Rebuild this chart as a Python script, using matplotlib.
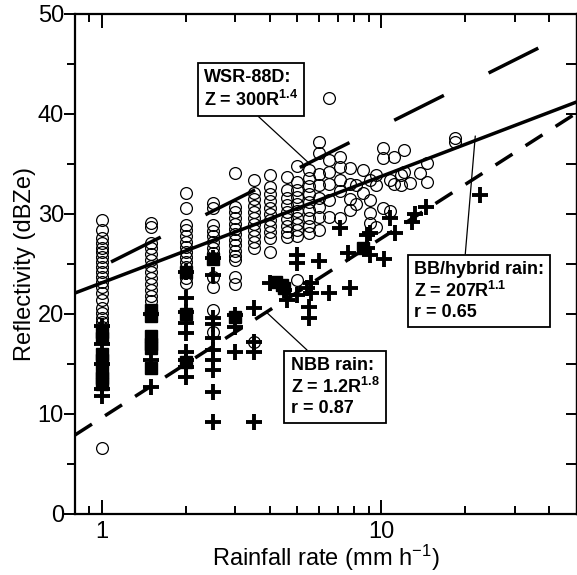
import numpy as np
import matplotlib.pyplot as plt
from matplotlib import ticker

plt.rcParams['font.family'] = ['Liberation Sans', 'DejaVu Sans']
plt.rcParams['mathtext.fontset'] = 'custom'
plt.rcParams['mathtext.rm'] = 'Liberation Sans'
plt.rcParams['mathtext.bf'] = 'Liberation Sans:bold'
plt.rcParams['mathtext.default'] = 'regular'
plt.rcParams['lines.scale_dashes'] = False

# open circles: rain rate columns and their reflectivities (dBZe)
circ_rates = [1.0, 1.5, 2.0, 2.5, 3.0, 3.5, 4.0, 4.6, 5.0, 5.5, 6.0, 6.5,
              7.1, 7.7, 8.1, 8.6, 9.1, 9.6, 10.1, 10.7, 11.1, 11.8, 12.1,
              12.7, 13.8, 14.6, 18.3]
circ_cols = [
    [29.4, 28.4, 27.6, 27.1, 26.6, 26.2, 25.7, 25.2, 24.7, 24.2, 23.7, 23.2,
     22.7, 22.1, 21.4, 20.6, 20.1, 19.6, 19.2, 18.7, 6.6],
    [29.1, 28.7, 27.1, 26.6, 26.0, 25.4, 24.8, 24.2, 23.6, 23.0, 22.4, 21.8, 21.3],
    [32.1, 30.6, 28.9, 28.4, 27.8, 27.2, 26.7, 26.2, 25.7, 25.2, 24.7, 24.2, 23.6, 23.1],
    [31.1, 30.6, 28.9, 28.3, 27.8, 27.2, 26.6, 26.1, 25.6, 23.7, 22.7, 20.4, 18.2],
    [34.1, 30.7, 30.2, 29.6, 29.0, 28.5, 28.0, 27.4, 26.9, 26.3, 25.8, 25.4, 23.7, 23.0],
    [33.4, 32.1, 31.5, 30.8, 30.2, 29.6, 29.0, 28.4, 27.8, 27.2, 26.6, 17.2],
    [33.9, 32.7, 32.0, 31.3, 30.6, 30.0, 29.4, 28.8, 28.2, 27.6, 26.2],
    [33.7, 32.4, 31.6, 30.9, 30.2, 29.5, 28.8, 28.2, 27.7],
    [34.8, 33.2, 32.4, 31.7, 31.0, 30.3, 29.6, 29.0, 28.4, 27.8, 23.4],
    [34.4, 33.6, 32.8, 32.0, 31.2, 30.4, 29.6, 28.8, 28.1],
    [37.2, 36.1, 34.0, 32.9, 31.6, 30.7, 29.7, 28.4],
    [41.6, 35.4, 34.2, 33.0, 31.4, 29.7],
    [35.7, 34.7, 33.4, 32.3, 29.6],
    [34.6, 33.0, 31.5, 30.4],
    [32.9, 31.0],
    [34.4, 32.1],
    [33.4, 31.4, 30.1, 29.1],
    [33.9, 32.9, 28.7],
    [36.6, 35.6, 30.6],
    [33.4, 30.3],
    [35.7, 33.0],
    [33.9, 32.9],
    [36.4, 34.2],
    [33.1],
    [34.1],
    [35.1, 33.2],
    [37.6, 37.2],
]

# filled squares
sq_rate = [1.0, 1.0, 1.0, 1.0, 1.0, 1.0, 1.0,
           1.5, 1.5, 1.5, 1.5, 1.5, 1.5,
           2.0, 2.0, 2.0, 2.5, 3.0, 4.2, 4.4, 4.5, 8.6]
sq_dbz = [18.2, 17.6, 16.0, 15.4, 14.2, 13.6, 13.0,
          20.4, 19.8, 17.8, 17.0, 16.6, 14.6,
          24.2, 20.0, 15.2, 25.5, 19.7, 23.2, 22.9, 22.6, 26.6]

# crosses
plus_rate = [1.0, 1.0, 1.0, 1.0, 1.0,
             1.5, 1.5, 1.5,
             2.0, 2.0, 2.0, 2.0, 2.0, 2.0, 2.0, 2.0, 2.0,
             2.5, 2.5, 2.5, 2.5, 2.5, 2.5, 2.5, 2.5, 2.5, 2.5,
             3.0, 3.0, 3.0,
             3.5, 3.5, 3.5, 3.5,
             4.0, 4.5, 4.6, 5.0, 5.0, 5.0, 5.4, 5.5, 5.5, 5.6, 5.6,
             6.0, 6.5, 7.1, 7.6, 7.7, 8.9, 8.9, 9.1, 9.1, 10.2,
             10.7, 11.2, 12.9, 13.2, 14.4, 22.6]
plus_dbz = [18.8, 17.0, 15.0, 12.5, 11.8,
            20.0, 15.4, 12.7,
            24.2, 21.6, 20.2, 19.1, 18.1, 16.2, 15.4, 14.7, 13.7,
            25.6, 23.9, 19.6, 19.0, 17.6, 16.4, 15.4, 14.4, 12.2, 9.2,
            19.9, 18.7, 16.2,
            20.6, 17.2, 16.2, 9.2,
            23.1, 22.4, 21.4, 25.9, 25.1, 21.9, 22.6, 20.7, 19.6, 23.1, 22.1,
            25.3, 22.1, 28.6, 26.1, 22.6, 26.6, 27.9, 28.1, 25.9, 25.5,
            29.6, 28.1, 29.2, 30.0, 30.7, 31.9]

# fitted relations, read at the axis ends (R = 0.8 and 50)
fit_rate = [0.8, 50]
wsr_dbz = [23.4, 48.5]
bb_dbz = [22.1, 41.2]
nbb_dbz = [7.9, 40.1]

fig = plt.figure(figsize=(5.77, 5.75), dpi=100)
ax = fig.add_axes([75/577, 1-514/575, 501.5/577, 500/575])

for r, col in zip(circ_rates, circ_cols):
    ax.plot([r]*len(col), col, 'o', mfc='none', mec='black', ms=8.5, mew=0.9, zorder=2)
ax.plot(sq_rate, sq_dbz, 's', color='black', ms=8, zorder=3)
ax.plot(plus_rate, plus_dbz, '+', color='black', ms=11, mew=2.8, zorder=3)

ax.plot(fit_rate, wsr_dbz, color='black', lw=2.5, ls=(47, (40, 36)), zorder=4)
ax.plot(fit_rate, bb_dbz, color='black', lw=2.5, zorder=4)
ax.plot(fit_rate, nbb_dbz, color='black', lw=2.5, ls=(0, (14.5, 11.2)), zorder=4)

ax.set_xscale('log')
ax.set_xlim(0.8, 50)
ax.set_ylim(0, 50)
ax.set_xticks([1, 10])
ax.set_xticklabels(['1', '10'])
ax.xaxis.set_minor_locator(ticker.LogLocator(subs=np.arange(2, 10)))
ax.xaxis.set_minor_formatter(ticker.NullFormatter())
ax.set_yticks([0, 10, 20, 30, 40, 50])
ax.yaxis.set_minor_locator(ticker.MultipleLocator(5))

ax.tick_params(axis='x', which='both', direction='in', top=True, width=1.4, labelsize=17, pad=5)
ax.tick_params(axis='x', which='major', length=10)
ax.tick_params(axis='x', which='minor', length=6)
ax.tick_params(axis='y', which='both', direction='out', right=False, width=1.4, labelsize=17, pad=0)
ax.tick_params(axis='y', which='major', length=8)
ax.tick_params(axis='y', which='minor', length=6)

ax2 = ax.secondary_yaxis('right')
ax2.set_yticks([0, 10, 20, 30, 40, 50])
ax2.yaxis.set_minor_locator(ticker.MultipleLocator(5))
ax2.tick_params(which='both', direction='in', length=8, width=1.4, labelright=False)
ax2.spines['right'].set_linewidth(1.6)

for s in ax.spines.values():
    s.set_linewidth(1.6)

ax.set_xlabel('Rainfall rate (mm h$^{-1}$)', fontsize=17, labelpad=0)
ax.set_ylabel('Reflectivity (dBZe)', fontsize=17, labelpad=1)

box = dict(boxstyle='square,pad=0.35', fc='white', ec='black', lw=1.3)
ax.annotate('WSR-88D:\nZ = 300R$^{1.4}$', xy=(5.5, 35.1), xytext=(251, 575-89.5),
            textcoords='figure pixels', ha='center', va='center', multialignment='left',
            fontsize=13, fontweight='bold', bbox=box, zorder=6,
            arrowprops=dict(arrowstyle='-', lw=0.9, color='black', relpos=(0.5, 0),
                            shrinkA=0, shrinkB=0))
ax.annotate('BB/hybrid rain:\nZ = 207R$^{1.1}$\nr = 0.65', xy=(21.7, 37.8), xytext=(479, 575-291),
            textcoords='figure pixels', ha='center', va='center', multialignment='left',
            fontsize=13, fontweight='bold', bbox=box, zorder=6,
            arrowprops=dict(arrowstyle='-', lw=0.9, color='black', relpos=(0.39, 1),
                            shrinkA=0, shrinkB=0))
ax.annotate('NBB rain:\nZ = 1.2R$^{1.8}$\nr = 0.87', xy=(3.87, 20.2), xytext=(335, 575-387),
            textcoords='figure pixels', ha='center', va='center', multialignment='left',
            fontsize=13, fontweight='bold', bbox=box, zorder=6,
            arrowprops=dict(arrowstyle='-', lw=0.9, color='black', relpos=(0.27, 1),
                            shrinkA=0, shrinkB=0))

fig.savefig('out.png', dpi=100)
